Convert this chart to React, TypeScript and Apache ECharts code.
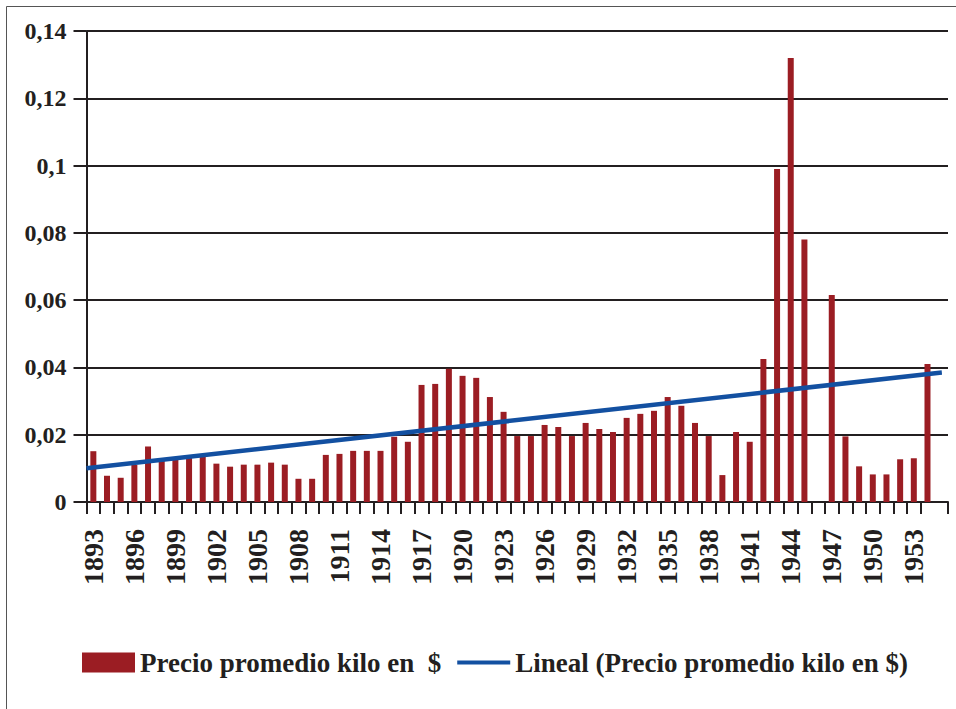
import React, { useEffect, useRef } from "react";
import * as echarts from "echarts";

const years = [
  "1893", "1894", "1895", "1896", "1897", "1898", "1899", "1900", "1901", "1902",
  "1903", "1904", "1905", "1906", "1907", "1908", "1909", "1910", "1911", "1912",
  "1913", "1914", "1915", "1916", "1917", "1918", "1919", "1920", "1921", "1922",
  "1923", "1924", "1925", "1926", "1927", "1928", "1929", "1930", "1931", "1932",
  "1933", "1934", "1935", "1936", "1937", "1938", "1939", "1940", "1941", "1942",
  "1943", "1944", "1945", "1946", "1947", "1948", "1949", "1950", "1951", "1952",
  "1953", "1954",
];

const prices: (number | null)[] = [
  0.0151, 0.0078, 0.0072, 0.011, 0.0165, 0.0122, 0.0128, 0.0135, 0.014, 0.0114,
  0.0105, 0.0111, 0.0111, 0.0117, 0.0111, 0.0069, 0.0069, 0.014, 0.0143, 0.0152,
  0.0152, 0.0152, 0.0194, 0.0179, 0.0348, 0.0351, 0.0396, 0.0375, 0.0369, 0.0312,
  0.0268, 0.0196, 0.0196, 0.0229, 0.0223, 0.0196, 0.0235, 0.0217, 0.0208, 0.025,
  0.0262, 0.0271, 0.0312, 0.0286, 0.0235, 0.0196, 0.008, 0.0208, 0.0179, 0.0425,
  0.099, 0.132, 0.078, null, 0.0615, 0.0195, 0.0106, 0.0082, 0.0082, 0.0127,
  0.013, 0.041,
];

// Linear trend line end points (position along the category span, value)
const trendX = [0, 62.55];
const trendY = [0.01, 0.0385];

const barName = "Precio promedio kilo en  $";
const lineName = "Lineal (Precio promedio kilo en $)";

const INK = "#231f20";
const BAR = "#9B1D23";
const LINE = "#1350A1";
const FONT = "'Liberation Serif', 'Times New Roman', serif";

export default function App() {
  const ref = useRef<HTMLDivElement>(null);

  useEffect(() => {
    if (!ref.current) return;
    const chart = echarts.init(ref.current, undefined, { renderer: "svg" });
    const option = {
      animation: false,
      backgroundColor: "#ffffff",
      graphic: [
        {
          type: "rect",
          silent: true,
          z: -10,
          shape: { x: 6.5, y: 6.5, width: 1000, height: 1000 },
          style: { fill: "none", stroke: "#555555", lineWidth: 1 },
        },
      ],
      grid: { left: 86.5, right: 8, top: 31, bottom: 207, containLabel: false },
      legend: {
        left: 77,
        top: 644,
        itemWidth: 53,
        itemHeight: 20,
        itemGap: 16,
        symbolKeepAspect: true,
        textStyle: { fontSize: 27, fontWeight: "bold", fontFamily: FONT, color: INK },
        data: [
          { name: barName, icon: "rect", itemStyle: { color: BAR } },
          {
            name: lineName,
            icon: "path://M0,0 L53,0 L53,4 L0,4 Z",
            itemStyle: { color: LINE, borderWidth: 0 },
            lineStyle: { width: 0, opacity: 0 },
          },
        ],
      },
      xAxis: [
        {
          type: "category",
          data: [...years, ""],
          boundaryGap: true,
          axisLine: { show: true, lineStyle: { color: INK, width: 2 } },
          axisTick: {
            show: true,
            length: 12,
            interval: (i: number) => i < years.length,
            lineStyle: { color: INK, width: 2 },
          },
          axisLabel: {
            interval: 2,
            rotate: 90,
            margin: 27,
            fontSize: 28,
            fontWeight: "bold",
            fontFamily: FONT,
            color: INK,
          },
          splitLine: { show: false },
        },
        { type: "value", min: 0, max: years.length + 1, show: false },
      ],
      yAxis: {
        type: "value",
        min: 0,
        max: 0.14,
        interval: 0.02,
        axisLine: { show: true, lineStyle: { color: INK, width: 2 } },
        axisTick: { show: true, length: 13, lineStyle: { color: INK, width: 2 } },
        splitLine: { show: true, lineStyle: { color: INK, width: 2 } },
        axisLabel: {
          margin: 20,
          fontSize: 24,
          fontWeight: "bold",
          fontFamily: FONT,
          color: INK,
          formatter: (v: number) =>
            v === 0 ? "0" : String(+v.toFixed(2)).replace(".", ","),
        },
      },
      series: [
        {
          name: barName,
          type: "bar",
          xAxisIndex: 0,
          data: [...prices, null],
          barWidth: 6,
          itemStyle: { color: BAR },
        },
        {
          name: lineName,
          type: "line",
          xAxisIndex: 1,
          data: trendX.map((x, i) => [x, trendY[i]]),
          symbol: "none",
          lineStyle: { color: LINE, width: 4.5 },
          itemStyle: { color: LINE },
        },
      ],
    };
    chart.setOption(option as any);
    return () => chart.dispose();
  }, []);

  return (
    <div
      ref={ref}
      style={{ position: "fixed", left: 0, top: 0, width: 956, height: 709 }}
    />
  );
}
